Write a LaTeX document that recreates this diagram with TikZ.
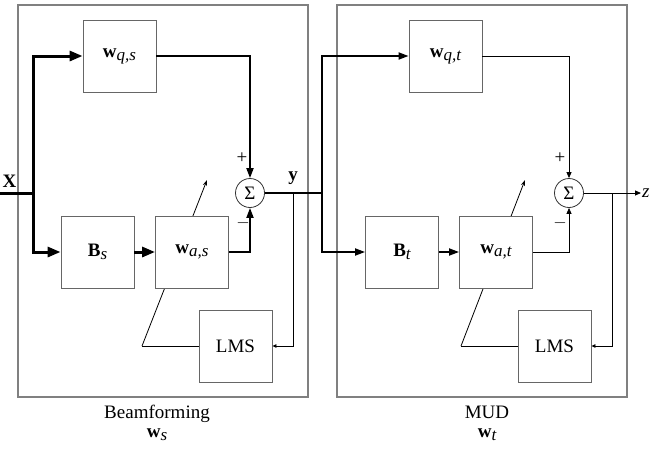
\documentclass[tikz,border=0pt]{standalone}
\usepackage{fontspec}
\setmainfont{Liberation Serif}
\usepackage{tikz}
\usetikzlibrary{positioning, arrows.meta, calc}
\pgfdeclarelayer{background}
\pgfsetlayers{background,main}
\newcommand{\LowSub}[1]{\raisebox{-0.35ex}{\fontsize{17}{17}\selectfont\itshape #1}}
\newcommand{\Weight}[1]{\textbf{w}\LowSub{#1}}
\newcommand{\Blocking}[1]{\textbf{B}\LowSub{#1}}
\tikzset{
    block/.style={draw=black!60, fill=white, line width=0.9pt, minimum width=73pt, minimum height=72pt, inner sep=0pt},
    frame/.style={draw=black!50, line width=1.2pt, minimum width=290pt, minimum height=392pt, inner sep=0pt},
    sumnode/.style={circle, draw=black!80, fill=white, line width=0.8pt, minimum size=29pt, inner sep=0pt},
    bus/.style={line width=3pt},
    midline/.style={line width=1.8pt},
    thinline/.style={line width=0.8pt},
    bigarrow/.style={-{Triangle[length=13pt, width=10pt]}},
    medarrow/.style={-{Triangle[length=10pt, width=7pt]}},
    smallarrow/.style={-{Triangle[length=6pt, width=5pt]}},
    tinyarrow/.style={-{Triangle[length=4pt, width=3.5pt]}},
    adapt/.style={thinline, -{Stealth[length=6pt, width=4pt]}},
}

\begin{document}
\begin{tikzpicture}[x=1pt, y=-1pt, font=\fontsize{19}{22}\selectfont]
    \useasboundingbox (0,0) rectangle (652,450);

    % frames
    \node[frame] (frameS) at (163,201) {};
    \node[frame] (frameT) at (482,201) {};

    % beamforming part
    \node[block] (wqs) at (119.5,56) {\Weight{q,s}};
    \node[block] (Bs) at (97.5,252) {\Blocking{s}};
    \node[block] (was) at (192,252) {\Weight{a,s}};
    \node[sumnode] (sumS) at (250,193) {Σ};
    \node[block] (lmsS) at (235.5,346) {LMS};

    % MUD part
    \node[block] (wqt) at (445.5,56) {\Weight{q,t}};
    \node[block] (Bt) at (402,252) {\Blocking{t}};
    \node[block] (wat) at (496,252) {\Weight{a,t}};
    \node[sumnode] (sumT) at (569,193) {Σ};
    \node[block] (lmsT) at (554.5,346) {LMS};

    \coordinate (xin) at (0,193);
    \coordinate (jS) at (33,193);
    \coordinate (fbS) at (293,193);
    \coordinate (jT) at (322,193);
    \coordinate (fbT) at (612,193);
    \coordinate (zout) at (641,193);
    \coordinate (kinkS) at (142,346);
    \coordinate (tipS) at (207,180);
    \coordinate (kinkT) at (461,346);
    \coordinate (tipT) at (525,180);

    % adaptation lines behind the boxes
    \begin{pgfonlayer}{background}
        \draw[adapt] (kinkS) -- (tipS);
        \draw[adapt] (kinkT) -- (tipT);
    \end{pgfonlayer}
    \draw[thinline] (lmsS.west) -- (kinkS);
    \draw[thinline] (lmsT.west) -- (kinkT);

    \draw[bus] (xin) -- (jS);
    \draw[bus, bigarrow] (jS) |- (wqs.west);
    \draw[bus, bigarrow] (jS) |- (Bs.west);
    \draw[bus, bigarrow] (Bs) -- (was);
    \draw[midline, medarrow] (wqs.east) -| (sumS.north);
    \draw[midline, medarrow] (was.east) -| (sumS.south);
    \draw[midline] (sumS.east) -- (jT);
    \draw[thinline, tinyarrow] (fbS) |- (lmsS.east);

    \draw[midline, medarrow] (jT) |- (wqt.west);
    \draw[midline, medarrow] (jT) |- (Bt.west);
    \draw[midline, medarrow] (Bt) -- (wat);
    \draw[thinline, smallarrow] (wqt.east) -| (sumT.north);
    \draw[thinline, smallarrow] (wat.east) -| (sumT.south);
    \draw[thinline, smallarrow] (sumT.east) -- (zout);
    \draw[thinline, tinyarrow] (fbT) |- (lmsT.east);

    % labels
    \node (lblX) at (9.5,181) {\textbf{X}};
    \node (lblY) at (293,178) {\textbf{y}};
    \node[anchor=west, inner sep=1pt] (lblZ) at (zout) {\textit{z}};
    \node (plusS) at (242,158) {+};
    \node (minusS) at (243,223) {$-$};
    \node (plusT) at (560,158) {+};
    \node (minusT) at (560,223) {$-$};

    \node[anchor=base] (capS) at (157,418) {Beamforming};
    \node[anchor=base] (capWs) at (157,437) {\Weight{s}};
    \node[anchor=base] (capT) at (487,418) {MUD};
    \node[anchor=base] (capWt) at (487,437) {\Weight{t}};
\end{tikzpicture}
\end{document}
